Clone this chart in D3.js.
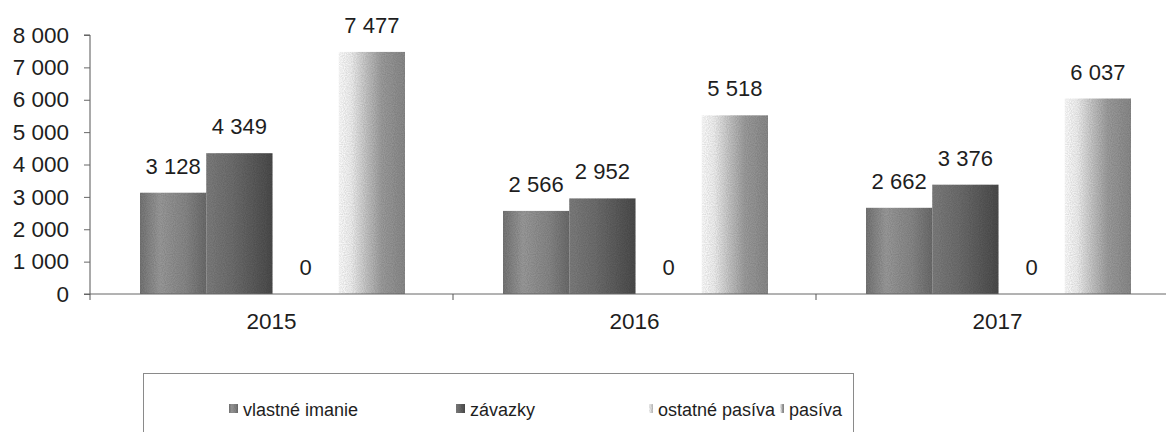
<!DOCTYPE html>
<html>
<head>
<meta charset="utf-8">
<script src="https://cdn.jsdelivr.net/npm/d3@7"></script>
<style>
  body { margin: 0; background: #fff; }
  svg { display: block; font-family: "Liberation Sans", Arial, sans-serif; }
</style>
</head>
<body>
<svg id="chart" width="1166" height="432"></svg>
<script>
// data
var years = ["2015", "2016", "2017"];
var seriesNames = ["vlastné imanie", "závazky", "ostatné pasíva", "pasíva"];
var vlastneImanie = [3128, 2566, 2662];
var zavazky = [4349, 2952, 3376];
var ostatnePasiva = [0, 0, 0];
var pasiva = [7477, 5518, 6037];
var yTicks = [0, 1000, 2000, 3000, 4000, 5000, 6000, 7000, 8000];
var titleText = "Vývoj a štruktúra pasív spoločnosti v rokoch 2015 – 2017";

var allSeries = [vlastneImanie, zavazky, ostatnePasiva, pasiva];

var svg = d3.select("#chart"),
    width = +svg.attr("width"),
    height = +svg.attr("height");

var fmt = d3.formatLocale({decimal: ",", thousands: " ", grouping: [3], currency: ["", ""]}).format(",d");

// gradients that imitate the shaded bars
var defs = svg.append("defs");
var grads = [
  [["0%", "#767676"], ["30%", "#9b9b9b"], ["70%", "#878787"], ["100%", "#6c6c6c"]],
  [["0%", "#7e7e7e"], ["40%", "#6e6e6e"], ["100%", "#4c4c4c"]],
  [["0%", "#ffffff"], ["40%", "#e6e6e6"], ["100%", "#bcbcbc"]],
  [["0%", "#ffffff"], ["18%", "#f2f2f2"], ["42%", "#c4c4c4"], ["65%", "#9d9d9d"], ["100%", "#8a8a8a"]]
];
grads.forEach(function(stops, i) {
  var lg = defs.append("linearGradient").attr("id", "g" + i)
    .attr("x1", "0").attr("x2", "1").attr("y1", "0").attr("y2", "0");
  stops.forEach(function(s) {
    lg.append("stop").attr("offset", s[0]).attr("stop-color", s[1]);
  });
});
// grainy texture like the scanned halftone
var filt = defs.append("filter").attr("id", "grain");
filt.append("feTurbulence").attr("type", "fractalNoise").attr("baseFrequency", "0.9")
  .attr("numOctaves", 1).attr("seed", 3).attr("result", "noise");
filt.append("feColorMatrix").attr("in", "noise").attr("type", "matrix")
  .attr("values", "0 0 0 0 0  0 0 0 0 0  0 0 0 0 0  0 0 0 0.45 -0.1").attr("result", "dots");
filt.append("feComposite").attr("in", "dots").attr("in2", "SourceGraphic").attr("operator", "in").attr("result", "dm");
filt.append("feMerge").selectAll("feMergeNode").data(["SourceGraphic", "dm"]).enter()
  .append("feMergeNode").attr("in", function(d) { return d; });

var plotLeft = 90, plotTop = 35, plotBottom = 294;

var x0 = d3.scaleBand().domain(years).range([plotLeft, plotLeft + 3 * 363]).paddingInner(0).paddingOuter(0);
var x1 = d3.scaleBand().domain(d3.range(4)).range([50, 315]).padding(0);
var y = d3.scaleLinear().domain([0, 8000]).range([plotBottom, plotTop]);

// title (cut off at the top edge in the reference)
svg.append("text")
  .attr("x", 600).attr("y", -6)
  .attr("text-anchor", "middle")
  .attr("font-weight", "bold").attr("font-size", "22px")
  .attr("fill", "#222")
  .text(titleText);

// bars
var groups = svg.append("g").selectAll("g")
  .data(years).enter().append("g")
  .attr("transform", function(d) { return "translate(" + x0(d) + ",0)"; });

groups.selectAll("rect")
  .data(function(d, i) { return allSeries.map(function(s, k) { return {k: k, v: s[i]}; }); })
  .enter().append("rect")
  .attr("x", function(d) { return x1(d.k); })
  .attr("width", x1.bandwidth())
  .attr("y", function(d) { return y(d.v); })
  .attr("height", function(d) { return plotBottom - y(d.v); })
  .attr("fill", function(d) { return "url(#g" + d.k + ")"; })
  .attr("filter", "url(#grain)");

groups.selectAll("text")
  .data(function(d, i) { return allSeries.map(function(s, k) { return {k: k, v: s[i]}; }); })
  .enter().append("text")
  .attr("x", function(d) { return x1(d.k) + x1.bandwidth() / 2; })
  .attr("y", function(d) { return y(d.v) - 19; })
  .attr("text-anchor", "middle")
  .attr("font-size", "22px")
  .attr("fill", "#1e1e1e")
  .text(function(d) { return fmt(d.v); });

// y axis
var yAxis = svg.append("g")
  .attr("transform", "translate(" + plotLeft + ",0)")
  .call(d3.axisLeft(y).tickValues(yTicks).tickSize(6).tickPadding(15).tickFormat(fmt));
yAxis.select(".domain").attr("stroke", "#555").attr("d", "M-6," + plotTop + "H0V" + plotBottom);
yAxis.selectAll(".tick line").attr("stroke", "#666");
yAxis.selectAll(".tick text").attr("font-size", "22.5px").attr("fill", "#1e1e1e")
  .attr("font-family", "Liberation Sans, Arial, sans-serif");

// x axis
var xg = svg.append("g").attr("transform", "translate(0," + plotBottom + ")");
xg.append("line").attr("x1", plotLeft - 6).attr("x2", width).attr("y1", 0).attr("y2", 0)
  .attr("stroke", "#666");
xg.selectAll(".xtick").data(years).enter().append("line")
  .attr("class", "xtick")
  .attr("x1", function(d) { return x0(d); }).attr("x2", function(d) { return x0(d); })
  .attr("y1", 0).attr("y2", 6).attr("stroke", "#555");
xg.selectAll(".xlab").data(years).enter().append("text")
  .attr("class", "xlab")
  .attr("x", function(d) { return x0(d) + x0.bandwidth() / 2; })
  .attr("y", 35)
  .attr("text-anchor", "middle")
  .attr("font-size", "22.5px").attr("fill", "#1e1e1e")
  .text(function(d) { return d; });

// legend
var legend = svg.append("g");
legend.append("rect")
  .attr("x", 143.5).attr("y", 373.5).attr("width", 710).attr("height", 90)
  .attr("fill", "none").attr("stroke", "#8a8a8a");
var legendX = [232, 459, 647, 778];
var swatchW = [9, 9, 4, 4];
var li = legend.selectAll(".li").data(seriesNames).enter().append("g")
  .attr("transform", function(d, i) { return "translate(" + legendX[i] + ",0)"; });
li.append("rect")
  .attr("x", function(d, i) { return 6 - swatchW[i]; }).attr("y", 404)
  .attr("width", function(d, i) { return swatchW[i]; }).attr("height", 9)
  .attr("fill", function(d, i) { return "url(#g" + i + ")"; })
  .attr("filter", "url(#grain)");
li.append("text")
  .attr("x", 11).attr("y", 416)
  .attr("font-size", "18px").attr("fill", "#1e1e1e")
  .text(function(d) { return d; });
</script>
</body>
</html>
